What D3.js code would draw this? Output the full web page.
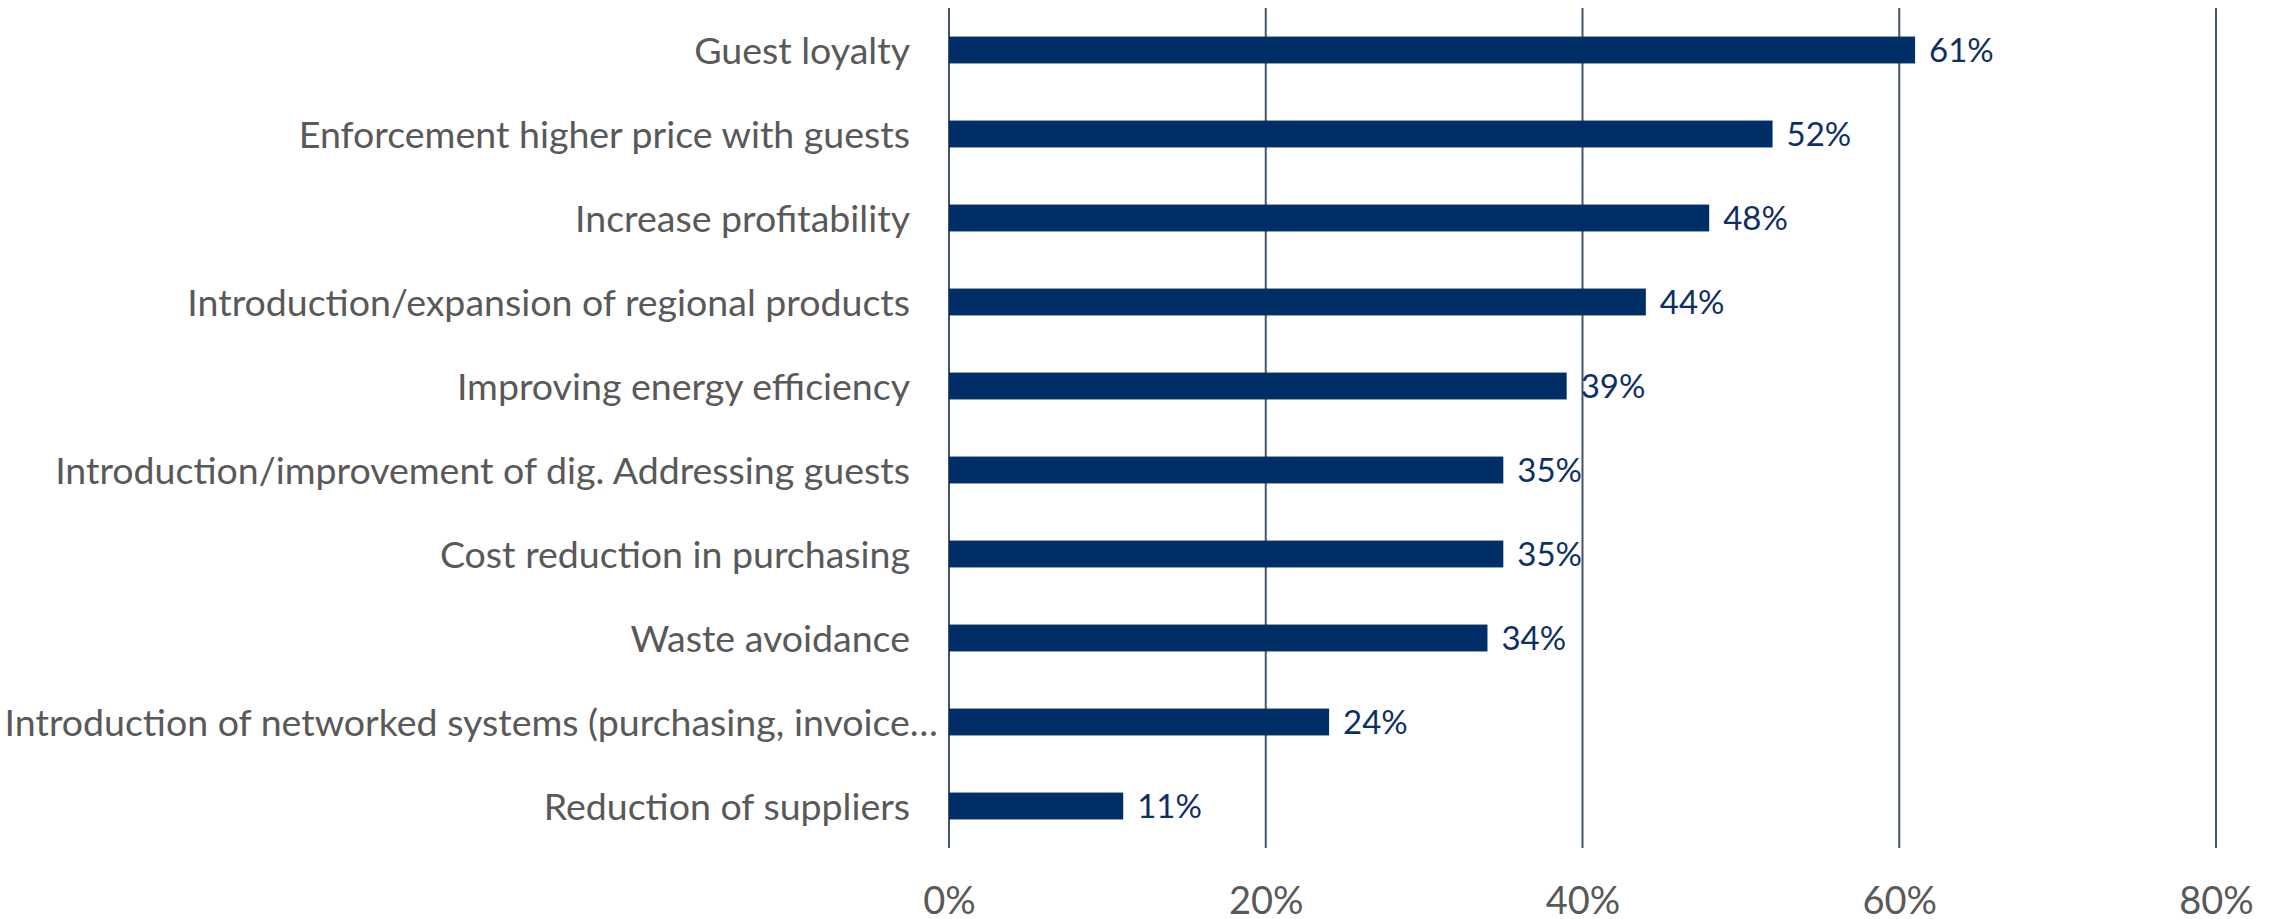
<!DOCTYPE html>
<html>
<head>
<meta charset="utf-8">
<script src="https://cdn.jsdelivr.net/npm/d3@7"></script>
<style>
  html, body { margin: 0; padding: 0; background: #ffffff; }
  svg { display: block; }
  text { font-family: Lato, "Open Sans", sans-serif; }
</style>
</head>
<body>
<svg id="chart" width="2280" height="919"></svg>
<script>
// Share of respondents naming each goal
const categories = [
  "Guest loyalty",
  "Enforcement higher price with guests",
  "Increase profitability",
  "Introduction/expansion of regional products",
  "Improving energy efficiency",
  "Introduction/improvement of dig. Addressing guests",
  "Cost reduction in purchasing",
  "Waste avoidance",
  "Introduction of networked systems (purchasing, invoice…",
  "Reduction of suppliers"
];
const values = [61, 52, 48, 44, 39, 35, 35, 34, 24, 11];
const tickValues = [0, 20, 40, 60, 80];
const tickLabels = ["0%", "20%", "40%", "60%", "80%"];

const svg = d3.select("#chart");
const margin = { top: 8, right: 64, bottom: 71, left: 949 };
const width = 2280 - margin.left - margin.right;
const height = 919 - margin.top - margin.bottom;

const g = svg.append("g").attr("transform", `translate(${margin.left},${margin.top})`);

const x = d3.scaleLinear().domain([0, 80]).range([0, width]);
const y = d3.scaleBand().domain(categories).range([0, height]).paddingInner(0.68).paddingOuter(0.34);

// vertical gridlines
g.append("g")
  .selectAll("line")
  .data(tickValues)
  .join("line")
  .attr("x1", d => x(d)).attr("x2", d => x(d))
  .attr("y1", 0).attr("y2", height)
  .attr("stroke", "#44546a")
  .attr("stroke-width", 2);

// x axis tick labels
const xAxis = d3.axisBottom(x)
  .tickValues(tickValues)
  .tickFormat((d, i) => tickLabels[i])
  .tickSize(0)
  .tickPadding(0);
const ax = g.append("g").attr("transform", `translate(0,${height})`).call(xAxis);
ax.select(".domain").remove();
ax.selectAll("text")
  .attr("y", 66)
  .attr("dy", null)
  .attr("fill", "#595959")
  .style("font-size", "38px")
  .style("font-family", "Lato, sans-serif");

// bars
g.append("g")
  .selectAll("rect")
  .data(values)
  .join("rect")
  .attr("x", x(0))
  .attr("y", (d, i) => y(categories[i]))
  .attr("width", d => x(d) - x(0))
  .attr("height", y.bandwidth())
  .attr("fill", "#002f67");

// value labels
g.append("g")
  .selectAll("text")
  .data(values)
  .join("text")
  .attr("x", d => x(d) + 14)
  .attr("y", (d, i) => y(categories[i]) + y.bandwidth() / 2)
  .attr("dy", "0.36em")
  .attr("fill", "#0e2f66")
  .style("font-size", "33px")
  .text(d => d + "%");

// category labels
const yAxis = d3.axisLeft(y).tickSize(0).tickPadding(0);
const ay = g.append("g").call(yAxis);
ay.select(".domain").remove();
ay.selectAll("text")
  .attr("x", d => d.endsWith("…") ? -11 : -39)
  .attr("dy", "0.36em")
  .attr("fill", "#595959")
  .style("font-size", "37.5px")
  .style("font-family", "Lato, sans-serif");
</script>
</body>
</html>
